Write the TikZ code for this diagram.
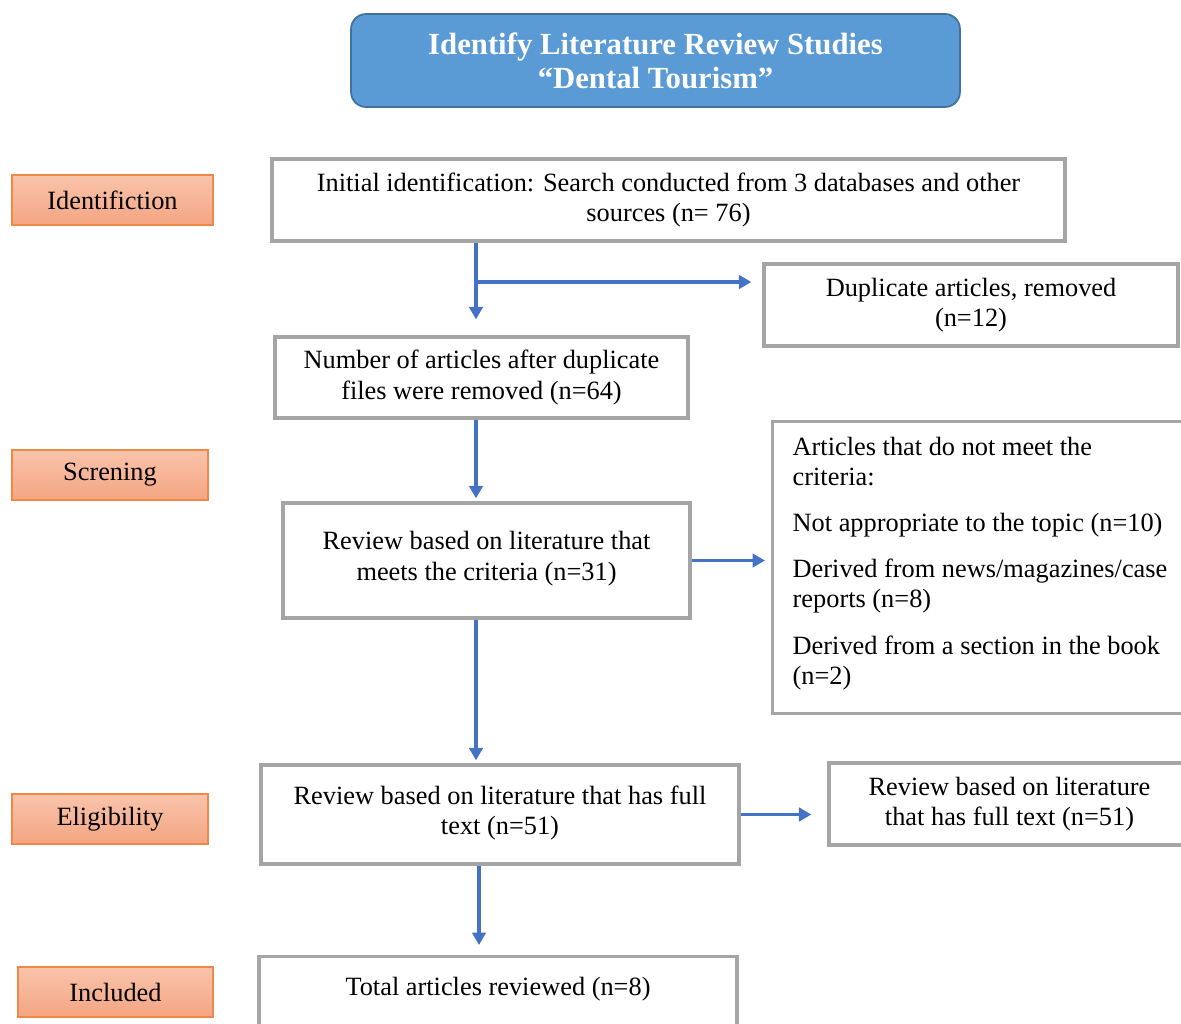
\documentclass[tikz,border=0pt]{standalone}
\usepackage{fontspec}
\setmainfont{Liberation Serif}
\usetikzlibrary{positioning,arrows.meta,calc}
\definecolor{flowblue}{HTML}{4472C4}
\definecolor{titlefill}{HTML}{5B9BD5}
\definecolor{titleline}{HTML}{41719C}
\definecolor{boxgray}{HTML}{A5A5A5}
\definecolor{tagline}{HTML}{F0884A}
\definecolor{tagtop}{HTML}{F9C4AB}
\definecolor{tagbottom}{HTML}{F4A582}

\begin{document}
\begin{tikzpicture}[x=0.02cm, y=-0.02cm, >={Triangle[length=0.25cm,width=0.27cm]},
  font=\fontsize{15}{17.2}\selectfont,
  flowbox/.style={draw=boxgray, line width=1.9pt, fill=white, align=center, inner sep=2pt},
  phase/.style={draw=tagline, line width=0.9pt, top color=tagtop,
    bottom color=tagbottom, minimum height=1cm},
  arr/.style={->, draw=flowblue, line width=2.1pt}]
  \useasboundingbox (0,0) rectangle (1181,1024);
  \clip (0,0) rectangle (1181,1024);

  % titel
  \node[draw=titleline, line width=1pt, fill=titlefill, rounded corners=0.3cm, text=white,
    font=\bfseries\fontsize{17.5}{19.4}\selectfont, align=center,
    minimum width=12.18cm, minimum height=1.86cm] (title) at (655.5,60.5)
    {Identify Literature Review Studies\\ ``Dental Tourism''};

  % fasen links
  \node[phase, minimum width=4.02cm] (ident) at (112.5,200) {Identifiction};
  \node[phase, minimum width=3.92cm] (scren) at (110,475) {Screning};
  \node[phase, minimum width=3.92cm] (elig) at (110,819) {Eligibility};
  \node[phase, minimum width=3.9cm] (incl) at (115.5,992) {Included};

  % hoofdstroom
  \node[flowbox, minimum width=15.86cm, minimum height=1.64cm] (initial) at (668.5,200)
    {Initial identification: Search conducted from 3 databases and other\\ sources (n= 76)};
  \node[flowbox, minimum width=8.26cm, minimum height=1.62cm] (afterdup) at (481.5,377.5)
    {Number of articles after duplicate\\ files were removed (n=64)};
  \node[flowbox, minimum width=8.14cm, minimum height=2.3cm] (review) at (486.5,560.5)
    {Review based on literature that\\ meets the criteria (n=31)\\[-0.42cm]\mbox{}};
  \node[flowbox, minimum width=9.56cm, minimum height=1.98cm] (fulltext) at (500,814.5)
    {Review based on literature that has full\\ text (n=51)\\[-0.42cm]\mbox{}};
  \node[flowbox, minimum width=9.56cm, anchor=north, text depth=1.5cm, inner ysep=0.42cm]
    (total) at (498,955) {Total articles reviewed (n=8)};

  % zijvakken
  \node[flowbox, minimum width=8.28cm, minimum height=1.64cm] (dup) at (971,305)
    {Duplicate articles, removed\\ (n=12)};
  \node[flowbox, anchor=north west, align=flush left, text width=7.8cm, inner xsep=0.4cm,
    minimum height=5.84cm] (criteria) at (771,420)
    {Articles that do not meet the\\ criteria:\\[0.32cm]
     Not appropriate to the topic (n=10)\\[0.32cm]
     Derived from news/magazines/case\\ reports (n=8)\\[0.32cm]
     Derived from a section in the book\\ (n=2)\\[-0.32cm]\mbox{}};
  \node[flowbox, minimum width=7.22cm, minimum height=1.64cm] (fullright) at (1009.5,804)
    {Review based on literature\\ that has full text (n=51)};

  % pijlen
  \coordinate (spine) at (476,0);
  \coordinate (fork) at (476,282);
  \draw[arr, shorten >=0.32cm] (initial.south -| spine) -- (afterdup.north -| spine);
  \draw[arr, shorten >=0.22cm] (fork) -- (fork -| dup.west);
  \draw[arr, shorten >=0.06cm] (afterdup.south -| spine) -- (review.north -| spine);
  \draw[arr, shorten >=0.12cm] (review.east) -- (review.east -| criteria.west);
  \draw[arr, shorten >=0.06cm] (review.south -| spine) -- (fulltext.north -| spine);
  \draw[arr, shorten >=0.32cm] (fulltext.east) -- (fulltext.east -| fullright.west);
  \draw[arr, shorten >=0.2cm] ($(fulltext.south -| spine)+(3,0)$) -- ($(total.north -| spine)+(3,0)$);
\end{tikzpicture}
\end{document}
